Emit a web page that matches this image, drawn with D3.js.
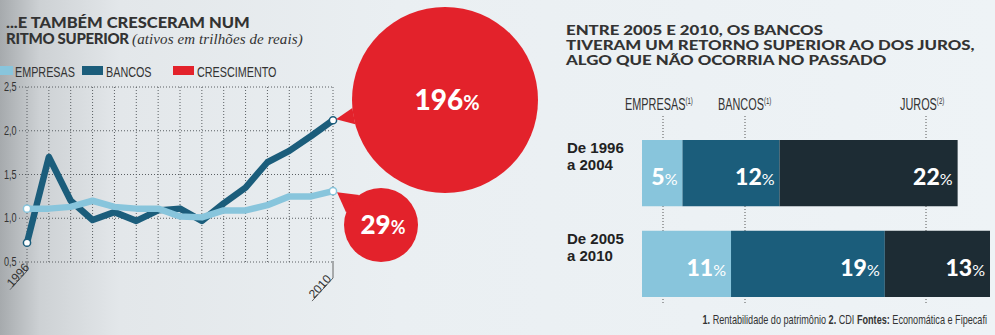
<!DOCTYPE html>
<html><head><meta charset="utf-8">
<script src="https://cdn.jsdelivr.net/npm/d3@7"></script>
<style>
html,body{margin:0;padding:0;background:#edf2f5;}
svg{display:block;}
</style></head><body>
<svg id="c" width="995" height="335"></svg>
<script>
// ---------- DATA ----------
const years = [1996,1997,1998,1999,2000,2001,2002,2003,2004,2005,2006,2007,2008,2009,2010];
const bancosAtivos   = [0.72,1.70,1.20,0.98,1.07,0.97,1.09,1.11,0.97,1.17,1.35,1.64,1.77,1.94,2.12];
const empresasAtivos = [1.11,1.11,1.13,1.20,1.13,1.11,1.11,1.02,1.01,1.09,1.09,1.15,1.25,1.25,1.31];
const yTicks = [0.5,1.0,1.5,2.0,2.5];
const xTickLabels = ["1996","2010"];
const growthLabels = ["196","29"];           // bancos, empresas
const legendLabels = ["EMPRESAS","BANCOS","CRESCIMENTO"];

const periods = ["De 1996|a 2004","De 2005|a 2010"];
const retEmpresas = [5,11];
const retBancos   = [12,19];
const retJuros    = [22,13];
const seriesNames = ["EMPRESAS","BANCOS","JUROS"];
const seriesNotes = ["(1)","(1)","(2)"];

// ---------- STYLE ----------
const C = {light:"#88c5dc", dark:"#1b5d7b", red:"#e3222b", juros:"#1d2c34", text:"#2a2a2a"};
const HEAVY = "Lato, 'Open Sans', sans-serif";
const NARROW = "'Liberation Sans Narrow', 'Liberation Sans', Roboto, sans-serif";

const svg = d3.select("#c");
const defs = svg.append("defs");
const g = defs.append("linearGradient").attr("id","bg").attr("x1","0").attr("x2","1").attr("y1","0").attr("y2","0");
g.append("stop").attr("offset","0").attr("stop-color","#a6aaad");
g.append("stop").attr("offset","0.04").attr("stop-color","#cdd1d4");
g.append("stop").attr("offset","0.12").attr("stop-color","#e3e7ea");
g.append("stop").attr("offset","0.4").attr("stop-color","#eaeff2");
g.append("stop").attr("offset","1").attr("stop-color","#eef3f6");
svg.append("rect").attr("width",995).attr("height",335).attr("fill","url(#bg)");

// helper for horizontally scaled text
function ctext(parent, x, y, str, size, opts={}) {
  const sx = opts.sx || 0.78;
  const t = parent.append("text")
    .attr("transform",`translate(${x},${y}) scale(${sx},1)`)
    .attr("font-family", opts.family || NARROW)
    .attr("font-size", size)
    .attr("font-weight", opts.weight || 400)
    .attr("fill", opts.fill || C.text)
    .attr("text-anchor", opts.anchor || "start")
    .text(str);
  return t;
}

// ---------- LEFT CHART ----------
const L = svg.append("g");
ctext(L, 6, 28, "...E TAMBÉM CRESCERAM NUM", 15, {family:HEAVY, weight:900, sx:1.1, fill:"#333"});
const t2 = L.append("text").attr("x",6).attr("y",44).attr("font-family",HEAVY).attr("font-weight",900)
  .attr("font-size",15).attr("fill","#333").attr("letter-spacing","-0.3");
t2.append("tspan").text("RITMO SUPERIOR ");
t2.append("tspan").attr("font-family","'Liberation Serif', 'DejaVu Serif', serif").attr("font-style","italic")
  .attr("font-weight",400).attr("font-size",15).attr("letter-spacing","0.1").text("(ativos em trilhões de reais)");

// legend
const legColors = [C.light, C.dark, C.red];
const legX = [0, 82, 173];
legendLabels.forEach((lab,i)=>{
  L.append("rect").attr("x",legX[i]).attr("y",66).attr("width",i===0?13:21).attr("height",9).attr("fill",legColors[i]);
  ctext(L, legX[i]+(i===0?15:24), 77, lab, 15, {sx:0.72, fill:"#333"});
});

const x = d3.scaleLinear().domain([1996,2010]).range([27,333]);
const y = d3.scaleLinear().domain([0.5,2.5]).range([262,87]);

// grid
const grid = L.append("g").attr("stroke","#5a5f63").attr("stroke-width",1).attr("stroke-dasharray","1,2");
grid.selectAll("line.h").data(yTicks).join("line").attr("class","h")
  .attr("x1",19).attr("x2",x(2010)).attr("y1",d=>y(d)).attr("y2",d=>y(d));
grid.selectAll("line.v").data(years).join("line").attr("class","v")
  .attr("x1",d=>x(d)).attr("x2",d=>x(d)).attr("y1",y(2.5)).attr("y2",y(0.5));

// y labels
yTicks.forEach(v=>{
  ctext(L, 4, y(v)+4, d3.format(".1f")(v).replace(".",","), 13, {sx:0.7, fill:"#333"});
});

// x labels with leader lines
const leader = d3.line();
[[1996,xTickLabels[0]],[2010,xTickLabels[1]]].forEach(([yr,lab])=>{
  const x0 = x(yr);
  const yb = y(0.5);
  const vy = yr===1996 ? yb+9 : yb+16;
  const dx = yr===1996 ? 17 : 21;
  const ex = x0-dx, ey = vy+dx*1.1;
  L.append("path").attr("d",leader([[x0,yb],[x0,vy],[ex,ey]])).attr("fill","none")
    .attr("stroke","#444").attr("stroke-width",0.8);
  L.append("text").attr("transform",`translate(${ex+2},${ey-2}) rotate(-48)`)
    .attr("font-family",NARROW).attr("font-size",12).attr("fill","#333").text(lab);
});

// lines
const line = d3.line().x((d,i)=>x(years[i])).y(d=>y(d));
L.append("path").attr("d",line(bancosAtivos)).attr("fill","none").attr("stroke",C.dark)
  .attr("stroke-width",6.5).attr("stroke-linejoin","round");
L.append("path").attr("d",line(empresasAtivos)).attr("fill","none").attr("stroke",C.light)
  .attr("stroke-width",6.5).attr("stroke-linejoin","round");

// end dots
const dots = [
  [years[0], bancosAtivos[0], C.dark],
  [years[0], empresasAtivos[0], C.light],
  [years[years.length-1], bancosAtivos[bancosAtivos.length-1], C.dark],
  [years[years.length-1], empresasAtivos[empresasAtivos.length-1], C.light]
];
dots.forEach(([yr,v,col])=>{
  L.append("circle").attr("cx",x(yr)).attr("cy",y(v)).attr("r",3.6).attr("fill","#fff")
    .attr("stroke",col).attr("stroke-width",1.5);
});

// growth bubbles
function bubble(tipX, tipY, cx, cy, r, spread, label, big) {
  const ang = Math.atan2(tipY-cy, tipX-cx);
  const p1 = [cx + r*Math.cos(ang-spread), cy + r*Math.sin(ang-spread)];
  const p2 = [cx + r*Math.cos(ang+spread), cy + r*Math.sin(ang+spread)];
  const b = L.append("g");
  b.append("path").attr("d",`M${tipX},${tipY}L${p1[0]},${p1[1]}L${p2[0]},${p2[1]}Z`).attr("fill",C.red);
  b.append("circle").attr("cx",cx).attr("cy",cy).attr("r",r).attr("fill",C.red);
  const t = b.append("text").attr("x",cx+2).attr("y",cy+(big?10:9)).attr("text-anchor","middle")
    .attr("font-family",HEAVY).attr("font-weight",900).attr("fill","#fff").attr("font-size",big?28:26);
  t.append("tspan").text(label);
  t.append("tspan").attr("font-size",big?20:18).attr("font-weight",700).text("%");
}
const endX = x(2010);
bubble(endX+3, y(bancosAtivos[14])-1, 445, 100, 93, 0.09, growthLabels[0], true);
bubble(endX+4, y(empresasAtivos[14])+1, 381, 225, 37, 0.3, growthLabels[1], false);

// ---------- RIGHT CHART ----------
const R = svg.append("g");
["ENTRE 2005 E 2010, OS BANCOS","TIVERAM UM RETORNO SUPERIOR AO DOS JUROS,","ALGO QUE NÃO OCORRIA NO PASSADO"].forEach((s,i)=>{
  ctext(R, 566, 35+i*15, s, 14, {family:HEAVY, weight:900, sx:1.2, fill:"#333"});
});

const xb = d3.scaleLinear().domain([0,43]).range([642,990]);
const yb = d3.scaleBand().domain(periods).range([140,297]).paddingInner(0.27);

// header labels + dotted lines
const headX = [663,745,926];
const headStart = [625,718,900];
seriesNames.forEach((n,i)=>{
  const t = ctext(R, headStart[i], 110, "", 16, {sx:0.68, fill:"#333"});
  t.append("tspan").text(n);
  t.append("tspan").attr("font-size",9).attr("dy",-6).text(seriesNotes[i]);
  R.append("line").attr("x1",headX[i]).attr("x2",headX[i]).attr("y1",116).attr("y2",305)
    .attr("stroke","#555").attr("stroke-width",1).attr("stroke-dasharray","1,2");
});

const stackData = periods.map((p,i)=>({period:p, EMPRESAS:retEmpresas[i], BANCOS:retBancos[i], JUROS:retJuros[i]}));
const stack = d3.stack().keys(seriesNames)(stackData);
const barColors = [C.light, C.dark, C.juros];
stack.forEach((s,si)=>{
  const gg = R.append("g");
  gg.selectAll("rect").data(s).join("rect")
    .attr("x",d=>xb(d[0])).attr("width",d=>xb(d[1])-xb(d[0]))
    .attr("y",d=>yb(d.data.period)).attr("height",yb.bandwidth()).attr("fill",barColors[si]);
  s.forEach(d=>{
    const v = d[1]-d[0];
    const t = gg.append("text").attr("x",xb(d[1])-5).attr("y",yb(d.data.period)+yb.bandwidth()/2+12)
      .attr("text-anchor","end").attr("font-family",HEAVY).attr("font-weight",900)
      .attr("font-size",23).attr("fill","#fff");
    t.append("tspan").text(v);
    t.append("tspan").attr("font-size",16).attr("font-weight",400).text("%");
  });
});

// row labels
periods.forEach(p=>{
  p.split("|").forEach((s,j)=>{
    ctext(R, 567, yb(p)+13+j*17, s, 15.5, {sx:0.97, weight:700, fill:"#222"});
  });
});

// footnote
const fn = ctext(R, 987, 324, "", 12, {sx:0.76, anchor:"end", fill:"#333"});
fn.append("tspan").attr("font-weight",700).text("1. ");
fn.append("tspan").text("Rentabilidade do patrimônio ");
fn.append("tspan").attr("font-weight",700).text("2. ");
fn.append("tspan").text("CDI  ");
fn.append("tspan").attr("font-weight",700).text("Fontes: ");
fn.append("tspan").text("Economática e Fipecafi");
</script>
</body></html>
